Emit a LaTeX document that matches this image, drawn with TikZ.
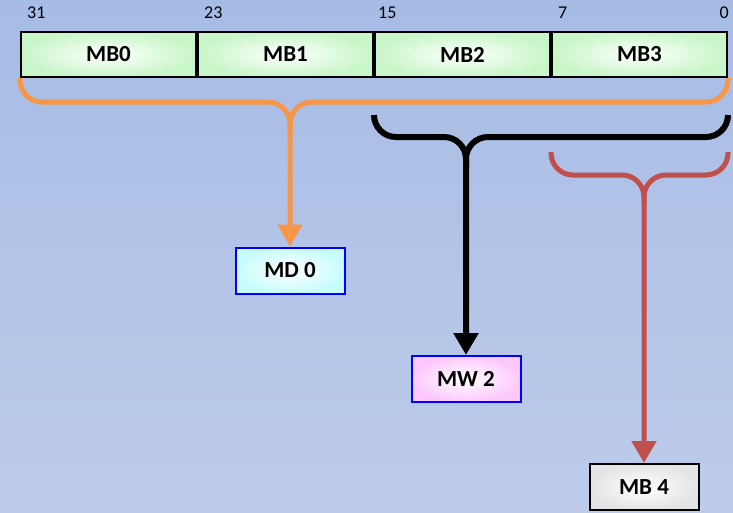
\documentclass[tikz,border=0pt]{standalone}
\usepackage{fontspec}
\setmainfont{Carlito}
\usetikzlibrary{arrows.meta,positioning,calc}
\definecolor{bgtop}{RGB}{166,188,229}
\definecolor{bgbot}{RGB}{190,204,234}
\definecolor{cellgreen}{RGB}{200,246,200}
\definecolor{cellcyan}{RGB}{200,252,252}
\definecolor{cellpink}{RGB}{252,200,252}
\definecolor{cellgray}{RGB}{228,228,228}
\definecolor{braceorange}{RGB}{247,150,70}
\definecolor{bracered}{RGB}{192,80,77}
\tikzset{
  regcell/.style={draw, line width=2pt, minimum width=175pt, minimum height=45pt, inner sep=0pt, font=\bfseries\fontsize{23}{23}\selectfont, shading=radial, inner color=white, outer color=cellgreen},
  regnum/.style={inner sep=0pt, font=\fontsize{18}{18}\selectfont},
  resbox/.style={draw=blue, line width=2pt, minimum width=109pt, minimum height=46pt, inner sep=0pt, font=\bfseries\fontsize{23}{23}\selectfont, shading=radial, inner color=white},
  regbrace/.style={line width=5pt, rounded corners=22pt},
  regarrow/.style={-{Triangle[length=22pt,width=24pt]}}
}

\begin{document}
\begin{tikzpicture}[x=1pt, y=-1pt, node distance=0pt]
\useasboundingbox (0,0) rectangle (733,512);
\shade[top color=bgtop, bottom color=bgbot] (0,0) rectangle (733,512);
\node[regcell] (mb0) at (108.5,54.5) {MB0};
\node[regcell, right=of mb0] (mb1) {MB1};
\node[regcell, right=of mb1] (mb2) {MB2};
\node[regcell, right=of mb2] (mb3) {MB3};
\node[regnum, anchor=south west] (b31) at ($(mb0.north west)+(7,-12)$) {31};
\node[regnum, anchor=south west] (b23) at ($(mb1.north west)+(7,-12)$) {23};
\node[regnum, anchor=south west] (b15) at ($(mb2.north west)+(4,-12)$) {15};
\node[regnum, anchor=south west] (b7) at ($(mb3.north west)+(7,-12)$) {7};
\node[regnum, anchor=south east] (b0) at ($(mb3.north east)+(1,-12)$) {0};
\node[resbox, outer color=cellcyan] (md0) at (290,270.5) {MD 0};
\node[resbox, outer color=cellpink] (mw2) at (466,379) {MW 2};
\node[resbox, draw=black, outer color=cellgray] (mb4) at (644,487) {MB 4};
\coordinate (oj) at (290,102);
\coordinate (wl) at ($(mb2.south west)+(0,37)$);
\coordinate (wr) at ($(mb3.south east)+(0,37)$);
\coordinate (wj) at (466,137);
\coordinate (bl) at ($(mb3.south west)+(0,74)$);
\coordinate (br) at ($(mb3.south east)+(0,74)$);
\coordinate (bj) at (644,175);
\draw[regbrace, braceorange] (mb3.south east) |- (oj) -- ++(0,30);
\draw[regbrace, regarrow, braceorange] (mb0.south west) |- (oj) -- (md0.north);
\draw[regbrace, line width=6pt] (wr) |- (wj) -- ++(0,30);
\draw[regbrace, regarrow, line width=6pt] (wl) |- (wj) -- (mw2.north);
\draw[regbrace, bracered] (br) |- (bj) -- ++(0,30);
\draw[regbrace, regarrow, bracered] (bl) |- (bj) -- (mb4.north);
\end{tikzpicture}
\end{document}
